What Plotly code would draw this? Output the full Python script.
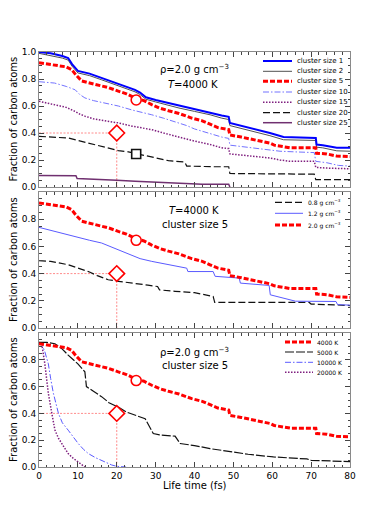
import plotly.graph_objects as go

# ---------------- data ----------------
# Panel 1: rho = 2.0 g/cm3, T = 4000 K, different cluster sizes
c1_x = [0, 3, 6, 7.5, 8.5, 10, 13, 16, 20, 24.7, 26, 27.5, 30, 33.3, 36, 40, 44, 47, 48.8, 49.1, 52, 54.3, 57, 59.4, 62.9, 71.2, 71.4, 73, 76.6, 80]
c1_y = [1.0, 0.99, 0.97, 0.955, 0.91, 0.86, 0.84, 0.81, 0.77, 0.72, 0.70, 0.665, 0.645, 0.622, 0.60, 0.575, 0.55, 0.53, 0.52, 0.475, 0.455, 0.44, 0.42, 0.40, 0.37, 0.363, 0.315, 0.31, 0.29, 0.29]
c2_y = [0.99, 0.975, 0.955, 0.94, 0.895, 0.845, 0.825, 0.795, 0.755, 0.705, 0.685, 0.65, 0.63, 0.605, 0.585, 0.56, 0.535, 0.51, 0.50, 0.455, 0.435, 0.42, 0.40, 0.38, 0.35, 0.345, 0.295, 0.29, 0.268, 0.265]

c5_x = [0, 4, 7, 8.4, 9.5, 11, 13, 16, 18, 20.4, 22.5, 24.7, 27, 29, 31, 33.3, 36, 39.3, 42, 44, 46, 48.8, 49.1, 52, 54.3, 57, 59.4, 60.5, 62.9, 64.6, 71.2, 71.4, 74, 76.5, 80]
c5_y = [0.92, 0.905, 0.89, 0.87, 0.83, 0.785, 0.77, 0.75, 0.735, 0.71, 0.69, 0.66, 0.64, 0.61, 0.585, 0.565, 0.545, 0.51, 0.49, 0.465, 0.44, 0.425, 0.385, 0.37, 0.355, 0.34, 0.325, 0.31, 0.30, 0.29, 0.29, 0.25, 0.245, 0.23, 0.225]

c10_x = [0, 4, 7, 9.3, 10.5, 11.8, 14, 17, 20.4, 24, 27, 29, 32, 35, 38, 40, 44, 47, 48.8, 49.1, 52, 56, 59.4, 62, 66, 70.8, 71.2, 74, 77, 80]
c10_y = [0.78, 0.77, 0.745, 0.72, 0.685, 0.66, 0.64, 0.62, 0.60, 0.57, 0.55, 0.535, 0.51, 0.485, 0.455, 0.43, 0.395, 0.37, 0.36, 0.31, 0.30, 0.285, 0.275, 0.265, 0.26, 0.255, 0.19, 0.18, 0.16, 0.155]

c15_x = [0, 4, 7, 9.3, 10.5, 11.8, 14, 17, 20.4, 24, 27, 29, 32, 35, 38, 40, 44, 47, 48.8, 49.1, 52, 56, 59.4, 62, 64.6, 70.8, 71.2, 74, 80]
c15_y = [0.635, 0.61, 0.59, 0.56, 0.54, 0.525, 0.505, 0.49, 0.475, 0.45, 0.435, 0.425, 0.40, 0.38, 0.355, 0.34, 0.315, 0.29, 0.285, 0.245, 0.235, 0.225, 0.215, 0.20, 0.19, 0.19, 0.145, 0.14, 0.135]

c20_x = [0, 4, 7.5, 10, 12.7, 16, 18.5, 20.4, 23, 24.7, 28, 30, 33.3, 37.5, 38, 45, 48.8, 49.1, 60, 70.8, 71.2, 80]
c20_y = [0.375, 0.37, 0.363, 0.345, 0.326, 0.30, 0.28, 0.27, 0.26, 0.25, 0.23, 0.215, 0.195, 0.185, 0.155, 0.15, 0.15, 0.10, 0.095, 0.095, 0.055, 0.055]

c25_x = [0, 9.5, 9.8, 15, 20, 24.7, 30, 33.3, 38, 42, 48.8, 49.1]
c25_y = [0.085, 0.083, 0.063, 0.058, 0.05, 0.042, 0.035, 0.03, 0.025, 0.02, 0.02, 0.0]

# Panel 2: T = 4000 K, cluster size 5, different densities
d08_x = [0, 3, 7.5, 10, 12.7, 15, 17.8, 20, 24.7, 28, 30.5, 31, 35, 40, 44.8, 45.2, 69.5, 70, 76, 80]
d08_y = [0.495, 0.49, 0.465, 0.44, 0.415, 0.385, 0.355, 0.345, 0.33, 0.315, 0.305, 0.28, 0.27, 0.26, 0.232, 0.188, 0.188, 0.176, 0.17, 0.165]
d12_x = [0, 4, 9.3, 13, 16.1, 20, 23, 26, 29, 33.3, 38, 38.3, 44.8, 45.3, 51.5, 51.8, 59.2, 59.5, 61.2, 63.7, 66, 76.4, 76.8, 80]
d12_y = [0.74, 0.71, 0.67, 0.645, 0.625, 0.58, 0.54, 0.51, 0.49, 0.465, 0.44, 0.415, 0.415, 0.38, 0.367, 0.33, 0.313, 0.244, 0.232, 0.21, 0.197, 0.195, 0.172, 0.168]

# Panel 3: rho = 2.0 g/cm3, cluster size 5, different temperatures
t5k_x = [0, 2, 4.1, 6, 7.5, 10, 11.8, 12.2, 14, 16.1, 18, 20.4, 22.5, 24.7, 27.3, 29.4, 31, 35, 36.3, 40, 44, 50, 53.8, 60.3, 68.9, 70, 77.4, 80]
t5k_y = [0.93, 0.93, 0.92, 0.88, 0.835, 0.77, 0.71, 0.6, 0.565, 0.525, 0.48, 0.447, 0.41, 0.385, 0.36, 0.25, 0.24, 0.23, 0.175, 0.16, 0.137, 0.112, 0.095, 0.075, 0.06, 0.05, 0.045, 0.04]
t10k_x = [0, 0.7, 1.5, 2.4, 3.0, 3.7, 5, 6, 7.5, 9, 10.1, 11.5, 12.7, 14.5, 16.1, 18.7, 20, 22.4]
t10k_y = [0.93, 0.92, 0.86, 0.77, 0.66, 0.55, 0.40, 0.33, 0.275, 0.215, 0.175, 0.13, 0.10, 0.07, 0.05, 0.015, 0.005, 0.0]
t20k_x = [0, 0.7, 1.5, 2.0, 2.4, 3.3, 4.1, 5, 5.8, 6.7, 7.5, 8.8, 10.1, 11, 11.8]
t20k_y = [0.93, 0.92, 0.77, 0.66, 0.55, 0.40, 0.275, 0.215, 0.175, 0.13, 0.10, 0.065, 0.037, 0.015, 0.0]

# reference markers
circle_pt = (25, 0.645)
diamond_pt = (20, 0.40)
square_pt = (25, 0.245)

x_ticks = [0, 10, 20, 30, 40, 50, 60, 70, 80]
y_ticks_top = [0.0, 0.2, 0.4, 0.6, 0.8, 1.0]
y_ticks_low = [0.0, 0.2, 0.4, 0.6, 0.8]

leg1 = ["cluster size 1", "cluster size 2", "cluster size 5", "cluster size 10",
        "cluster size 15", "cluster size 20", "cluster size 25"]
leg2 = ["0.8 g cm<sup>−3</sup>", "1.2 g cm<sup>−3</sup>", "2.0 g cm<sup>−3</sup>"]
leg3 = ["4000 K", "5000 K", "10000 K", "20000 K"]

# ---------------- styles ----------------
BLUE = "#0000ff"
GRAY = "#505050"
RED = "#ff0000"
LBLUE = "#7373ff"
PURPLE = "#7f1f7f"
PURPLE2 = "#703070"
BLACK = "#111111"
GUIDE = "#ff8c8c"

s1 = dict(color=BLUE, width=2, dash="solid")
s2 = dict(color=GRAY, width=1, dash="solid")
s5 = dict(color=RED, width=3, dash="5px,2px")
s10 = dict(color=LBLUE, width=1, dash="6px,2px,1.5px,2px")
s15 = dict(color=PURPLE, width=1.5, dash="1.5px,1.5px")
s20 = dict(color=BLACK, width=1.2, dash="7px,3px")
s25 = dict(color=PURPLE2, width=1.5, dash="solid")
s08 = dict(color=BLACK, width=1.2, dash="7px,3px")
s12 = dict(color="#5a5aff", width=1, dash="solid")
s5k = dict(color=BLACK, width=1.2, dash="9px,2px")
s10k = dict(color="#5a5aff", width=1, dash="6px,2px,1.5px,2px")
s20k = dict(color=PURPLE, width=1.5, dash="1.5px,1.5px")

W, H = 390, 521
ML, MR, MT, MB = 39, 40, 52, 54
PW = W - ML - MR
PH = H - MT - MB


def fx(px):
    return (px - ML) / PW


def fy(py):
    return (H - MB - py) / PH


fig = go.Figure()


def add(x, y, line, ax):
    fig.add_trace(go.Scatter(x=x, y=y, mode="lines", line=line,
                             xaxis="x" + ax, yaxis="y" + ax, hoverinfo="skip",
                             showlegend=False))


def guides(ax):
    fig.add_trace(go.Scatter(x=[0, diamond_pt[0]], y=[diamond_pt[1], diamond_pt[1]], mode="lines",
                             line=dict(color=GUIDE, width=1, dash="2px,1.5px"),
                             xaxis="x" + ax, yaxis="y" + ax, showlegend=False, hoverinfo="skip"))
    fig.add_trace(go.Scatter(x=[diamond_pt[0], diamond_pt[0]], y=[0, diamond_pt[1]], mode="lines",
                             line=dict(color=GUIDE, width=1, dash="2px,1.5px"),
                             xaxis="x" + ax, yaxis="y" + ax, showlegend=False, hoverinfo="skip"))


def markers(ax, square=False):
    fig.add_trace(go.Scatter(x=[circle_pt[0]], y=[circle_pt[1]], mode="markers",
                             marker=dict(symbol="circle", size=10, color="white",
                                         line=dict(color=RED, width=1.6)),
                             xaxis="x" + ax, yaxis="y" + ax, showlegend=False))
    fig.add_trace(go.Scatter(x=[diamond_pt[0]], y=[diamond_pt[1]], mode="markers",
                             marker=dict(symbol="diamond", size=12, color="white",
                                         line=dict(color=RED, width=1.6)),
                             xaxis="x" + ax, yaxis="y" + ax, showlegend=False))
    if square:
        fig.add_trace(go.Scatter(x=[square_pt[0]], y=[square_pt[1]], mode="markers",
                                 marker=dict(symbol="square", size=9, color="white",
                                             line=dict(color=BLACK, width=1.6)),
                                 xaxis="x" + ax, yaxis="y" + ax, showlegend=False))


# panel 1 (axis suffix "")
guides("")
add(c25_x, c25_y, s25, "")
add(c20_x, c20_y, s20, "")
add(c15_x, c15_y, s15, "")
add(c10_x, c10_y, s10, "")
add(c1_x, c2_y, s2, "")
add(c1_x, c1_y, s1, "")
add(c5_x, c5_y, s5, "")
markers("", square=True)

# panel 2
guides("2")
add(d08_x, d08_y, s08, "2")
add(d12_x, d12_y, s12, "2")
add(c5_x, c5_y, s5, "2")
markers("2")

# panel 3
guides("3")
add(t20k_x, t20k_y, s20k, "3")
add(t10k_x, t10k_y, s10k, "3")
add(t5k_x, t5k_y, s5k, "3")
add(c5_x, c5_y, s5, "3")
markers("3")

FONT = "DejaVu Sans"
TICKC = "#444444"
FRAME = "#8a8a8a"


def xax(show, anchor):
    return dict(range=[0, 80], tickvals=x_ticks, ticktext=[str(v) for v in x_ticks],
                showticklabels=show, ticks="inside", ticklen=5, tickwidth=1, tickcolor=TICKC,
                minor=dict(dtick=2, ticks="inside", ticklen=2.5, tickcolor=TICKC, tickwidth=0.8),
                showline=True, linecolor=FRAME, linewidth=1, mirror="allticks",
                showgrid=False, zeroline=False, anchor=anchor,
                tickfont=dict(family=FONT, size=9, color="black"), domain=[0, 1])


def yax(domain, vals, anchor):
    return dict(range=[0, 1.0], tickvals=vals, ticktext=["%.1f" % v for v in vals],
                ticks="inside", ticklen=5, tickwidth=1, tickcolor=TICKC,
                minor=dict(dtick=0.05, ticks="inside", ticklen=2.5, tickcolor=TICKC, tickwidth=0.8),
                showline=True, linecolor=FRAME, linewidth=1, mirror="allticks",
                showgrid=False, zeroline=False, anchor=anchor, domain=domain,
                tickfont=dict(family=FONT, size=9, color="black"))


dom1 = [fy(187), 1.0]
dom2 = [fy(328), fy(192)]
dom3 = [0.0, fy(333)]

annotations = []
shapes = []


def txt(px, py, text, size, xanchor="center", angle=0):
    annotations.append(dict(x=fx(px), y=fy(py), xref="paper", yref="paper", text=text,
                            showarrow=False, xanchor=xanchor, yanchor="middle", textangle=angle,
                            font=dict(family=FONT, size=size, color="black")))


def legline(x0, x1, py, line):
    shapes.append(dict(type="line", xref="paper", yref="paper", x0=fx(x0), x1=fx(x1),
                       y0=fy(py), y1=fy(py), line=line))


# panel texts
txt(194, 69, "ρ=2.0 g cm<sup>−3</sup>", 10)
txt(193, 84, "<i>T</i>=4000 K", 10)
txt(194, 210, "<i>T</i>=4000 K", 10)
txt(195, 224, "cluster size 5", 10)
txt(194, 352, "ρ=2.0 g cm<sup>−3</sup>", 10)
txt(195, 365, "cluster size 5", 10)

# axis titles
for cy in [(52 + 187) / 2, (192 + 328) / 2, (333 + 467) / 2]:
    txt(13, cy, "Fraction of carbon atoms", 10, angle=-90)
txt(195, 485, "Life time (fs)", 10)

# legends
rows1 = [61, 71.3, 81.3, 92, 102.3, 112.7, 122.7]
for r, lab, st in zip(rows1, leg1, [s1, s2, s5, s10, s15, s20, s25]):
    legline(263, 292, r, st)
    txt(295, r, lab, 7, xanchor="left")
rows2 = [202.3, 213.3, 225]
for r, lab, st in zip(rows2, leg2, [s08, s12, s5]):
    legline(275, 303, r, st)
    txt(306, r, lab, 6, xanchor="left")
rows3 = [342, 352, 362.3, 372.3]
for r, lab, st in zip(rows3, leg3, [s5, s5k, s10k, s20k]):
    legline(285, 313, r, st)
    txt(315, r, lab, 6, xanchor="left")

fig.update_layout(
    width=W, height=H,
    margin=dict(l=ML, r=MR, t=MT, b=MB, autoexpand=False),
    paper_bgcolor="white", plot_bgcolor="white",
    showlegend=False,
    xaxis=xax(False, "y"), yaxis=yax(dom1, y_ticks_top, "x"),
    xaxis2=xax(False, "y2"), yaxis2=yax(dom2, y_ticks_low, "x2"),
    xaxis3=xax(True, "y3"), yaxis3=yax(dom3, y_ticks_low, "x3"),
    annotations=annotations, shapes=shapes,
    font=dict(family=FONT, color="black"),
)

fig.write_html("out.html", config={"displayModeBar": False},
               post_script="document.body.style.margin='0px';document.body.style.overflow='hidden';")
